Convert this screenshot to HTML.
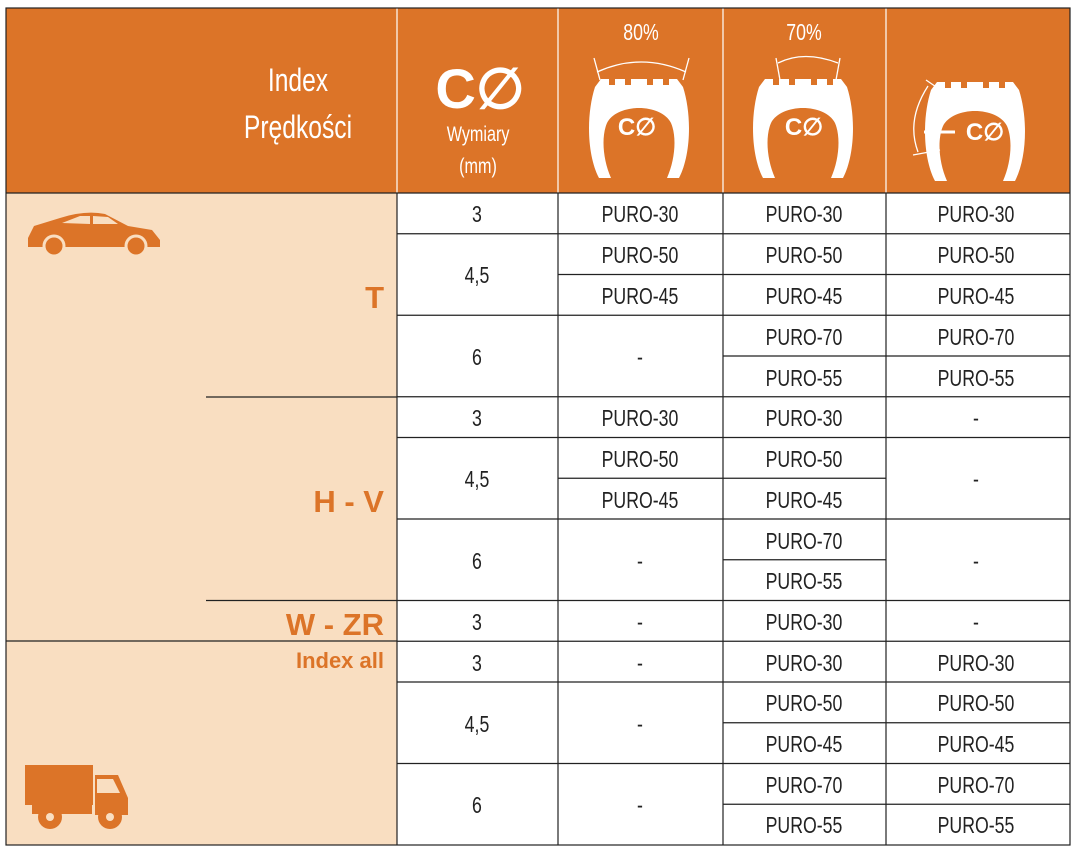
<!DOCTYPE html>
<html><head><meta charset="utf-8"><style>
html,body{margin:0;padding:0;background:#fff}
svg{display:block}
text{font-family:"Liberation Sans Narrow","Liberation Sans",sans-serif}
.n text,text.n{transform-box:fill-box;transform-origin:center;transform:scaleX(0.77)}
</style></head><body>
<svg width="1075" height="850" viewBox="0 0 1075 850" xmlns="http://www.w3.org/2000/svg">
<defs>
<g id="tire">
<path d="M10,103 C-2,80 -3,40 6,12 L12,4 L88,4 L94,12 C103,40 102,80 90,103 L78,103 C86,85 88,62 82,48 C72,28 28,28 18,48 C12,62 14,85 22,103 Z" fill="#fff"/>
<rect x="20" y="2" width="6" height="8" fill="#DC7428"/><rect x="36" y="2" width="6" height="8" fill="#DC7428"/><rect x="58" y="2" width="6" height="8" fill="#DC7428"/><rect x="74" y="2" width="6" height="8" fill="#DC7428"/>
</g>
</defs>
<rect x="6" y="8" width="1064" height="185" fill="#DC7428"/>
<g stroke="#fff" stroke-width="1.2"><line x1="397" y1="8" x2="397" y2="193"/><line x1="558" y1="8" x2="558" y2="193"/><line x1="723" y1="8" x2="723" y2="193"/><line x1="886" y1="8" x2="886" y2="193"/></g>
<g fill="#fff" text-anchor="middle" class="n">
<text x="298" y="91" font-size="32">Index</text>
<text x="298" y="138" font-size="32">Prędkości</text>
<text x="478" y="141" font-size="21">Wymiary</text>
<text x="478" y="173" font-size="21">(mm)</text>
<text x="641" y="40" font-size="23">80%</text>
<text x="804" y="40" font-size="23">70%</text>
</g>
<text x="480" y="108" font-size="56" font-weight="bold" font-family="Liberation Sans" fill="#fff" text-anchor="middle">C∅</text>
<use href="#tire" x="589" y="75"/>
<use href="#tire" x="753" y="75"/>
<use href="#tire" x="925" y="78"/>
<g stroke="#fff" stroke-width="1.3" fill="none">
<path d="M597,72 Q641,52 686,72"/><line x1="594" y1="58" x2="600" y2="80"/><line x1="689" y1="58" x2="683" y2="80"/>
<path d="M778,63 Q804,50 838,63"/><line x1="776" y1="58" x2="780" y2="80"/><line x1="840" y1="58" x2="836" y2="80"/>
<path d="M928,86 Q906,120 918,152"/><line x1="926" y1="80" x2="945" y2="93"/><line x1="913" y1="155" x2="940" y2="150"/>
<line x1="924" y1="132" x2="955" y2="132" stroke-width="3"/>
</g>
<g fill="#fff" font-weight="bold" font-family="Liberation Sans" font-size="24" text-anchor="middle">
<text x="637" y="135">C∅</text><text x="804" y="135">C∅</text><text x="985" y="140">C∅</text>
</g>
<rect x="6" y="193" width="391" height="652" fill="#F9DEC1"/>
<path d="M28,238 L34,226 L60,218 Q85,210 105,214 L128,226 L152,230 L160,240 L160,247 L28,247 Z" fill="#DC7428"/>
<path d="M62,223 L80,216 L90,216 L90,224 Z M93,216 L108,217 L118,224 L93,224 Z" fill="#F9DEC1"/>
<circle cx="54" cy="246" r="10" fill="#DC7428" stroke="#F9DEC1" stroke-width="3"/>
<circle cx="136" cy="246" r="10" fill="#DC7428" stroke="#F9DEC1" stroke-width="3"/>
<rect x="25" y="765" width="68" height="40" fill="#DC7428"/>
<rect x="32" y="802" width="60" height="12" fill="#DC7428"/>
<path d="M95,775 L118,775 L128,798 L128,815 L95,815 Z" fill="#DC7428"/>
<path d="M97,779 L113,779 L120,793 L97,793 Z" fill="#F9DEC1"/>
<circle cx="50" cy="817" r="12" fill="#DC7428"/><circle cx="50" cy="817" r="4" fill="#F9DEC1"/>
<circle cx="110" cy="817" r="12" fill="#DC7428"/><circle cx="110" cy="817" r="4" fill="#F9DEC1"/>
<g fill="#DC7428" font-weight="bold" font-family="Liberation Sans" text-anchor="end">
<text x="384" y="308" font-size="31">T</text>
<text x="384" y="512" font-size="31">H - V</text>
<text x="384" y="635" font-size="31">W - ZR</text>
<text x="384" y="668" font-size="22">Index all</text>
</g>
<g stroke="#222" stroke-width="1.2">
<rect x="6" y="8" width="1064" height="837" fill="none"/>
<line x1="6" y1="193" x2="1070" y2="193"/>
<line x1="397" y1="193" x2="397" y2="845"/>
<line x1="558" y1="193" x2="558" y2="845"/>
<line x1="723" y1="193" x2="723" y2="845"/>
<line x1="886" y1="193" x2="886" y2="845"/>
<line x1="206" y1="397" x2="397" y2="397"/>
<line x1="206" y1="600.5" x2="397" y2="600.5"/>
<line x1="6" y1="641" x2="397" y2="641"/>
<line x1="397" y1="233.75" x2="1070" y2="233.75"/>
<line x1="558" y1="274.5" x2="1070" y2="274.5"/>
<line x1="397" y1="315.25" x2="1070" y2="315.25"/>
<line x1="723" y1="356" x2="1070" y2="356"/>
<line x1="397" y1="396.75" x2="1070" y2="396.75"/>
<line x1="397" y1="437.5" x2="1070" y2="437.5"/>
<line x1="558" y1="478.25" x2="886" y2="478.25"/>
<line x1="397" y1="519" x2="1070" y2="519"/>
<line x1="723" y1="559.75" x2="886" y2="559.75"/>
<line x1="397" y1="600.5" x2="1070" y2="600.5"/>
<line x1="397" y1="641.25" x2="1070" y2="641.25"/>
<line x1="397" y1="682" x2="1070" y2="682"/>
<line x1="723" y1="722.75" x2="1070" y2="722.75"/>
<line x1="397" y1="763.5" x2="1070" y2="763.5"/>
<line x1="723" y1="804.25" x2="1070" y2="804.25"/>
</g>
<g fill="#222" font-size="23" text-anchor="middle" class="n">
<text x="477" y="222">3</text><text x="477" y="487">4,5</text>
<text x="477" y="283">4,5</text><text x="477" y="365">6</text><text x="477" y="426">3</text><text x="477" y="569">6</text><text x="477" y="630">3</text><text x="477" y="671">3</text><text x="477" y="732">4,5</text><text x="477" y="813">6</text>
<text x="640" y="222">PURO-30</text><text x="640" y="263">PURO-50</text><text x="640" y="304">PURO-45</text><text x="640" y="365">-</text>
<text x="640" y="426">PURO-30</text><text x="640" y="467">PURO-50</text><text x="640" y="508">PURO-45</text><text x="640" y="569">-</text>
<text x="640" y="630">-</text><text x="640" y="671">-</text><text x="640" y="732">-</text><text x="640" y="813">-</text>
<text x="804" y="222">PURO-30</text><text x="804" y="263">PURO-50</text><text x="804" y="304">PURO-45</text><text x="804" y="345">PURO-70</text><text x="804" y="386">PURO-55</text>
<text x="804" y="426">PURO-30</text><text x="804" y="467">PURO-50</text><text x="804" y="508">PURO-45</text><text x="804" y="549">PURO-70</text><text x="804" y="589">PURO-55</text>
<text x="804" y="630">PURO-30</text><text x="804" y="671">PURO-30</text><text x="804" y="711">PURO-50</text><text x="804" y="752">PURO-45</text><text x="804" y="793">PURO-70</text><text x="804" y="833">PURO-55</text>
<text x="976" y="222">PURO-30</text><text x="976" y="263">PURO-50</text><text x="976" y="304">PURO-45</text><text x="976" y="345">PURO-70</text><text x="976" y="386">PURO-55</text>
<text x="976" y="426">-</text><text x="976" y="487">-</text><text x="976" y="569">-</text><text x="976" y="630">-</text>
<text x="976" y="671">PURO-30</text><text x="976" y="711">PURO-50</text><text x="976" y="752">PURO-45</text><text x="976" y="793">PURO-70</text><text x="976" y="833">PURO-55</text>
</g>
</svg>
</body></html>
